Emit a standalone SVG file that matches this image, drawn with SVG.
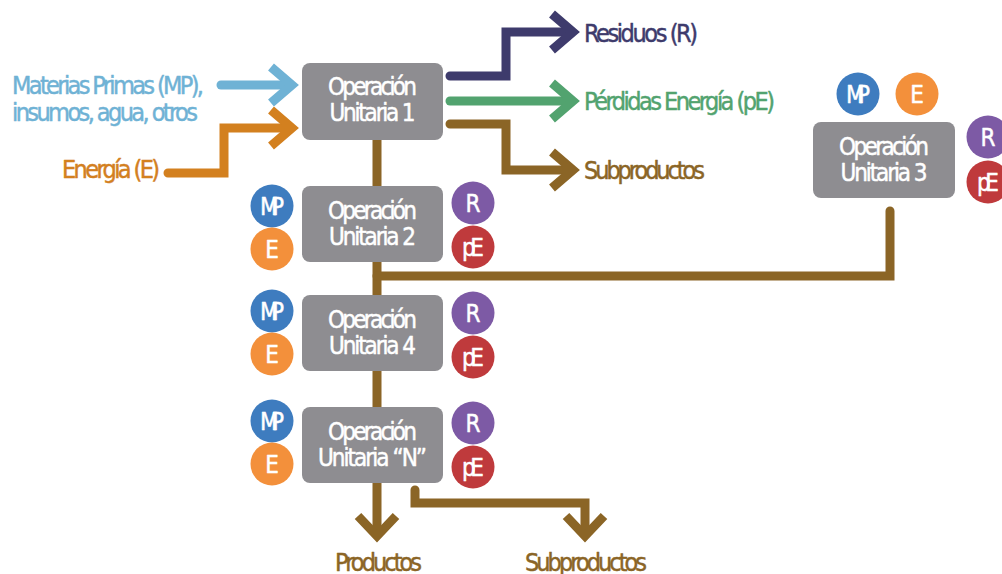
<svg xmlns="http://www.w3.org/2000/svg" width="1002" height="574" viewBox="0 0 1002 574">
<defs>
<style>
text{font-family:"Liberation Sans Narrow","DejaVu Sans Condensed","Liberation Sans",Arial,sans-serif;font-size:25px;lengthAdjust:spacingAndGlyphs;stroke-width:0.45;stroke-linejoin:round}
.box{fill:#8e8d91}
.bt{fill:#ffffff;stroke:#ffffff;text-anchor:middle;font-size:24px}
.ct{fill:#ffffff;stroke:#ffffff;text-anchor:middle;font-size:24px}
.tblue{fill:#6fb2d5;stroke:#6fb2d5}
.torange{fill:#d3801f;stroke:#d3801f}
.tnavy{fill:#3e3b6c;stroke:#3e3b6c}
.tgreen{fill:#52a36f;stroke:#52a36f}
.tbrown{fill:#8b6526;stroke:#8b6526}
.mp{fill:#3e7cbf}
.e{fill:#f3903b}
.r{fill:#7d5aa5}
.pe{fill:#bf3a3c}
.ln{fill:none;stroke-width:9;stroke-linejoin:miter;stroke-linecap:round}
.hd{fill:none;stroke-width:9;stroke-linejoin:miter;stroke-linecap:butt}
.brown{stroke:#8b6526}
.blue{stroke:#6fb2d5}
.orange{stroke:#d3801f}
.navy{stroke:#3e3b6c}
.green{stroke:#52a36f}
</style>
</defs>
<rect width="1002" height="574" fill="#ffffff"/>

<g id="connectors">
  <path class="ln brown" d="M377,140 V407" stroke-width="10"/>
  <path class="ln brown" d="M377,276 H890 V211"/>
  <path class="ln blue" d="M221,85 H289"/>
  <path class="hd blue" d="M271,67 L292,85 L271,103"/>
  <path class="ln orange" d="M168,173 H224 V128 H289"/>
  <path class="hd orange" d="M271,110 L292,128 L271,146"/>
  <path class="ln navy" d="M450,76 H506 V32 H570"/>
  <path class="hd navy" d="M552,14 L573,32 L552,50"/>
  <path class="ln green" d="M450,101 H570"/>
  <path class="hd green" d="M552,83 L573,101 L552,119"/>
  <path class="ln brown" d="M450,124 H506 V170 H570"/>
  <path class="hd brown" d="M552,152 L573,170 L552,188"/>
  <path class="ln brown" d="M377,483 V533" stroke-width="10"/>
  <path class="hd brown" d="M358,516 L377,536 L396,516"/>
  <path class="ln brown" d="M415,490 V503 H585 V533"/>
  <path class="hd brown" d="M566,516 L585,536 L604,516"/>
</g>

<g id="labels">
  <text class="tblue" x="12" y="94" textLength="192">Materias Primas (MP),</text>
  <text class="tblue" x="12" y="121" textLength="186">insumos, agua, otros</text>
  <text class="torange" x="62" y="178" textLength="98">Energía (E)</text>
  <text class="tnavy" x="584" y="42" textLength="114">Residuos (R)</text>
  <text class="tgreen" x="584" y="110" textLength="191">Pérdidas Energía (pE)</text>
  <text class="tbrown" x="584" y="179" textLength="121">Subproductos</text>
  <text class="tbrown" x="335" y="571" textLength="87">Productos</text>
  <text class="tbrown" x="525" y="571" textLength="122">Subproductos</text>
</g>

<g id="op1">
  <rect class="box" x="302" y="63" width="141" height="77" rx="8"/>
  <text class="bt" x="372.5" y="95" textLength="89">Operación</text>
  <text class="bt" x="372.5" y="121" textLength="86">Unitaria 1</text>
</g>

<g id="op2">
  <rect class="box" x="302" y="186" width="141" height="76" rx="8"/>
  <text class="bt" x="372.5" y="219" textLength="89">Operación</text>
  <text class="bt" x="372.5" y="245" textLength="87">Unitaria 2</text>
  <circle class="mp" cx="272" cy="206" r="21.5"/>
  <text class="ct" x="272" y="215" textLength="24">MP</text>
  <circle class="e" cx="272" cy="249" r="21.5"/>
  <text class="ct" x="272" y="258" textLength="10">E</text>
  <circle class="r" cx="473" cy="203" r="21.5"/>
  <text class="ct" x="473" y="212" textLength="12">R</text>
  <circle class="pe" cx="473" cy="247" r="21.5"/>
  <text class="ct" x="473" y="256" textLength="22">pE</text>
</g>

<g id="op4">
  <rect class="box" x="302" y="295" width="141" height="76" rx="8"/>
  <text class="bt" x="372.5" y="328" textLength="89">Operación</text>
  <text class="bt" x="372.5" y="354" textLength="87">Unitaria 4</text>
  <circle class="mp" cx="272" cy="311" r="21.5"/>
  <text class="ct" x="272" y="320" textLength="24">MP</text>
  <circle class="e" cx="272" cy="354" r="21.5"/>
  <text class="ct" x="272" y="363" textLength="10">E</text>
  <circle class="r" cx="473" cy="313" r="21.5"/>
  <text class="ct" x="473" y="322" textLength="12">R</text>
  <circle class="pe" cx="473" cy="357" r="21.5"/>
  <text class="ct" x="473" y="366" textLength="22">pE</text>
</g>

<g id="opN">
  <rect class="box" x="302" y="407" width="141" height="76" rx="8"/>
  <text class="bt" x="372.5" y="440" textLength="89">Operación</text>
  <text class="bt" x="372.5" y="466" textLength="109">Unitaria “N”</text>
  <circle class="mp" cx="272" cy="421" r="21.5"/>
  <text class="ct" x="272" y="430" textLength="24">MP</text>
  <circle class="e" cx="272" cy="464" r="21.5"/>
  <text class="ct" x="272" y="473" textLength="10">E</text>
  <circle class="r" cx="473" cy="423" r="21.5"/>
  <text class="ct" x="473" y="432" textLength="12">R</text>
  <circle class="pe" cx="473" cy="467" r="21.5"/>
  <text class="ct" x="473" y="476" textLength="22">pE</text>
</g>

<g id="op3">
  <rect class="box" x="813" y="122" width="142" height="76" rx="8"/>
  <text class="bt" x="884" y="155" textLength="90">Operación</text>
  <text class="bt" x="884" y="181" textLength="87">Unitaria 3</text>
  <circle class="mp" cx="858" cy="94" r="21.5"/>
  <text class="ct" x="858" y="103" textLength="24">MP</text>
  <circle class="e" cx="917" cy="94" r="21.5"/>
  <text class="ct" x="917" y="103" textLength="10">E</text>
  <circle class="r" cx="988" cy="137" r="21.5"/>
  <text class="ct" x="988" y="146" textLength="12">R</text>
  <circle class="pe" cx="988" cy="182" r="21.5"/>
  <text class="ct" x="988" y="191" textLength="22">pE</text>
</g>
</svg>
